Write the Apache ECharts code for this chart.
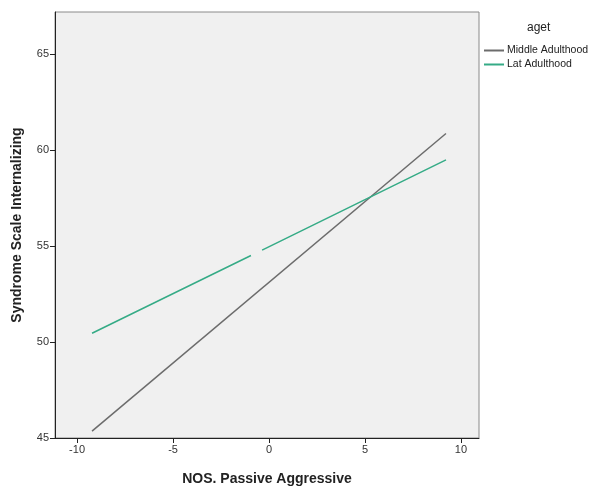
<!DOCTYPE html>
<html>
<head>
<meta charset="utf-8">
<script src="https://cdn.jsdelivr.net/npm/echarts@6/dist/echarts.min.js"></script>
<style>
  html, body { margin: 0; padding: 0; background: #ffffff; }
  #chart { width: 592px; height: 491px; }
</style>
</head>
<body>
<div id="chart"></div>
<script>
// Fit lines of internalizing score against passive-aggressive score, by age group
const groupNames = ['Middle Adulthood', 'Lat Adulthood'];
const middleAdulthood = [[-9.22, 45.36], [9.22, 60.87]];
// the later-adulthood fit line is drawn in two pieces with a small break near x = -0.6
const latAdulthood = [[-9.22, 50.46], [-0.94, 54.51], null, [-0.36, 54.79], [9.22, 59.49]];
const xTicks = [-10, -5, 0, 5, 10];
const yTicks = [45, 50, 55, 60, 65];
const legendTitle = 'aget';
const xTitle = 'NOS. Passive Aggressive';
const yTitle = 'Syndrome Scale Internalizing';

const chart = echarts.init(document.getElementById('chart'), null, { renderer: 'canvas' });
const font = 'Liberation Sans, Arial, sans-serif';

chart.setOption({
  animation: false,
  backgroundColor: '#ffffff',
  title: {
    text: legendTitle,
    left: 522, top: 17,
    textStyle: { fontFamily: font, fontSize: 12, fontWeight: 'normal', color: '#222' }
  },
  legend: {
    data: groupNames,
    orient: 'vertical',
    left: 479, top: 40,
    itemWidth: 20, itemHeight: 2, itemGap: 3,
    icon: 'rect',
    textStyle: { fontFamily: font, fontSize: 10.5, color: '#222', padding: [0, 0, 0, -2] }
  },
  grid: {
    left: 55, right: 113, top: 12, bottom: 46,
    show: true,
    backgroundColor: '#f0f0f0',
    borderColor: '#8a8a8a',
    borderWidth: 1
  },
  xAxis: {
    type: 'value',
    min: -11.15, max: 10.94,
    name: xTitle,
    nameLocation: 'middle',
    nameGap: 34,
    nameTextStyle: { fontFamily: font, fontSize: 14, fontWeight: 'bold', color: '#222' },
    axisLine: { show: true, onZero: false, lineStyle: { color: '#222', width: 1 } },
    axisTick: { show: true, length: 5, customValues: xTicks, lineStyle: { color: '#222' } },
    axisLabel: { customValues: xTicks, fontFamily: font, fontSize: 11, color: '#333', margin: 6 },
    splitLine: { show: false }
  },
  yAxis: {
    type: 'value',
    min: 45, max: 67.2,
    name: yTitle,
    nameLocation: 'middle',
    nameGap: 31,
    nameTextStyle: { fontFamily: font, fontSize: 14, fontWeight: 'bold', color: '#222' },
    axisLine: { show: true, onZero: false, lineStyle: { color: '#222', width: 1 } },
    axisTick: { show: true, length: 5, customValues: yTicks, lineStyle: { color: '#222' } },
    axisLabel: { customValues: yTicks, fontFamily: font, fontSize: 11, color: '#333', margin: 6 },
    splitLine: { show: false }
  },
  series: [
    {
      name: groupNames[0],
      type: 'line',
      data: middleAdulthood,
      showSymbol: false,
      lineStyle: { color: '#6c6c6c', width: 1.5 },
      itemStyle: { color: '#6c6c6c' }
    },
    {
      name: groupNames[1],
      type: 'line',
      data: latAdulthood,
      connectNulls: false,
      showSymbol: false,
      lineStyle: { color: '#35ab86', width: 1.5 },
      itemStyle: { color: '#35ab86' }
    }
  ]
});
</script>
</body>
</html>
